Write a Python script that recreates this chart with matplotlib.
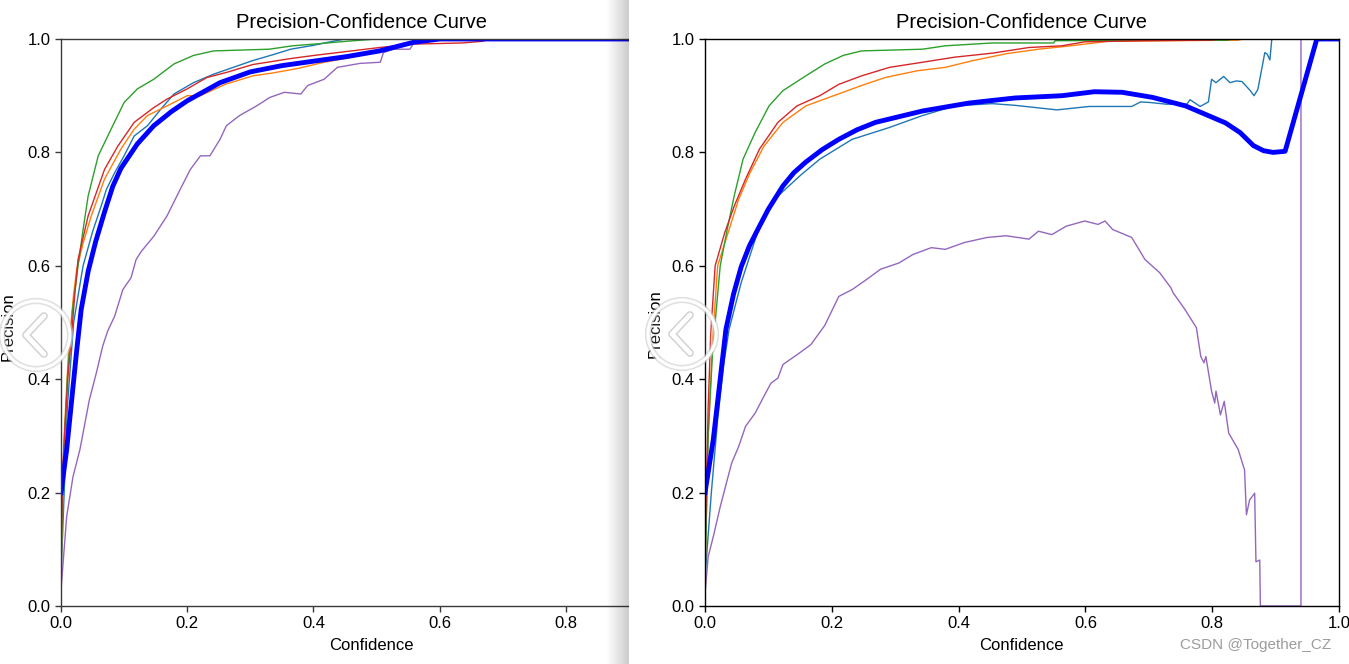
import matplotlib
matplotlib.use("Agg")
import matplotlib.pyplot as plt
from matplotlib.patches import Rectangle, Ellipse
from matplotlib.lines import Line2D
import matplotlib.patheffects as pe

plt.rcParams['font.family'] = ['Liberation Sans', 'DejaVu Sans']

# ---------------- data: left panel ----------------
L_c0_x = [0, 0.01, 0.02, 0.035, 0.05, 0.065, 0.072, 0.085, 0.1, 0.116, 0.137, 0.158, 0.179, 0.21, 0.242, 0.273, 0.304, 0.335, 0.364, 0.401, 0.422, 0.45, 1.0]
L_c0_y = [0.05, 0.35, 0.5, 0.6, 0.66, 0.71, 0.735, 0.764, 0.794, 0.829, 0.847, 0.876, 0.903, 0.923, 0.938, 0.95, 0.962, 0.972, 0.982, 0.989, 0.994, 1.0, 1.0]

L_c1_x = [0, 0.005, 0.012, 0.02, 0.025, 0.035, 0.048, 0.069, 0.095, 0.116, 0.137, 0.168, 0.2, 0.221, 0.26, 0.304, 0.335, 0.375, 0.417, 0.453, 0.505, 0.537, 0.558, 0.6, 1.0]
L_c1_y = [0.05, 0.3, 0.45, 0.55, 0.594, 0.64, 0.688, 0.753, 0.806, 0.841, 0.865, 0.882, 0.9, 0.9, 0.92, 0.935, 0.94, 0.948, 0.959, 0.966, 0.979, 0.988, 0.994, 1.0, 1.0]

L_c2_x = [0, 0.004, 0.01, 0.018, 0.027, 0.035, 0.043, 0.059, 0.082, 0.1, 0.121, 0.147, 0.179, 0.21, 0.242, 0.33, 0.367, 0.401, 0.453, 0.5, 1.0]
L_c2_y = [0.07, 0.25, 0.4, 0.52, 0.6, 0.664, 0.723, 0.794, 0.847, 0.888, 0.912, 0.929, 0.956, 0.971, 0.979, 0.982, 0.988, 0.991, 0.996, 1.0, 1.0]

L_c3_x = [0, 0.003, 0.007, 0.011, 0.017, 0.022, 0.027, 0.043, 0.069, 0.09, 0.116, 0.147, 0.168, 0.2, 0.231, 0.262, 0.304, 0.367, 0.401, 0.453, 0.505, 0.558, 0.636, 0.668, 0.68, 1.0]
L_c3_y = [0.1, 0.25, 0.33, 0.405, 0.482, 0.552, 0.611, 0.688, 0.77, 0.811, 0.853, 0.879, 0.894, 0.912, 0.932, 0.941, 0.955, 0.966, 0.971, 0.978, 0.985, 0.991, 0.993, 0.996, 1.0, 1.0]

L_c4_x = [0, 0.009, 0.019, 0.03, 0.038, 0.045, 0.056, 0.066, 0.074, 0.085, 0.098, 0.111, 0.119, 0.127, 0.147, 0.168, 0.189, 0.205, 0.221, 0.236, 0.252, 0.262, 0.283, 0.31, 0.331, 0.354, 0.38, 0.391, 0.417, 0.438, 0.474, 0.506, 0.511, 0.527, 0.553, 0.558, 0.57, 1.0]
L_c4_y = [0.028, 0.158, 0.228, 0.276, 0.323, 0.364, 0.411, 0.458, 0.485, 0.511, 0.558, 0.579, 0.611, 0.625, 0.652, 0.688, 0.735, 0.770, 0.794, 0.794, 0.823, 0.847, 0.865, 0.882, 0.897, 0.906, 0.903, 0.918, 0.929, 0.95, 0.957, 0.959, 0.976, 0.982, 0.982, 0.991, 1.0, 1.0]

L_all_x = [0, 0.009, 0.017, 0.025, 0.032, 0.043, 0.055, 0.069, 0.082, 0.095, 0.121, 0.147, 0.175, 0.2, 0.252, 0.3, 0.35, 0.401, 0.453, 0.505, 0.558, 0.6, 1.0]
L_all_y = [0.2, 0.276, 0.364, 0.452, 0.523, 0.59, 0.643, 0.695, 0.74, 0.772, 0.815, 0.847, 0.872, 0.891, 0.923, 0.942, 0.953, 0.961, 0.969, 0.979, 0.994, 1.0, 1.0]

# ---------------- data: right panel ----------------
R_c0_x = [0, 0.01, 0.02, 0.03, 0.038, 0.057, 0.086, 0.115, 0.152, 0.181, 0.232, 0.291, 0.343, 0.394, 0.453, 0.489, 0.555, 0.606, 0.673, 0.687, 0.702, 0.728, 0.76, 0.765, 0.781, 0.794, 0.799, 0.806, 0.818, 0.828, 0.838, 0.847, 0.86, 0.866, 0.872, 0.883, 0.887, 0.891, 0.894, 1.0]
R_c0_y = [0.05, 0.2, 0.33, 0.43, 0.488, 0.57, 0.67, 0.723, 0.761, 0.788, 0.823, 0.844, 0.865, 0.882, 0.886, 0.883, 0.875, 0.881, 0.881, 0.889, 0.888, 0.885, 0.885, 0.893, 0.881, 0.889, 0.929, 0.923, 0.934, 0.923, 0.926, 0.925, 0.909, 0.900, 0.911, 0.976, 0.973, 0.963, 1.0, 1.0]

R_c1_x = [0, 0.005, 0.012, 0.02, 0.038, 0.053, 0.071, 0.093, 0.123, 0.159, 0.203, 0.247, 0.284, 0.335, 0.379, 0.423, 0.475, 0.526, 0.577, 0.636, 0.84, 0.85, 1.0]
R_c1_y = [0.05, 0.3, 0.47, 0.6, 0.664, 0.717, 0.764, 0.811, 0.853, 0.882, 0.9, 0.918, 0.932, 0.944, 0.95, 0.962, 0.974, 0.982, 0.988, 0.996, 0.998, 1.0, 1.0]

R_c2_x = [0, 0.005, 0.012, 0.024, 0.035, 0.046, 0.06, 0.079, 0.101, 0.123, 0.159, 0.189, 0.218, 0.247, 0.343, 0.379, 0.453, 0.55, 0.552, 0.825, 0.83, 1.0]
R_c2_y = [0.05, 0.3, 0.45, 0.6, 0.664, 0.723, 0.788, 0.835, 0.882, 0.909, 0.935, 0.956, 0.971, 0.979, 0.982, 0.988, 0.993, 0.993, 0.997, 0.998, 1.0, 1.0]

R_c3_x = [0, 0.002, 0.005, 0.009, 0.016, 0.031, 0.046, 0.064, 0.086, 0.115, 0.145, 0.181, 0.211, 0.247, 0.291, 0.343, 0.394, 0.453, 0.511, 0.563, 0.599, 0.69, 0.8, 0.81, 1.0]
R_c3_y = [0.1, 0.2, 0.35, 0.48, 0.6, 0.658, 0.705, 0.753, 0.806, 0.853, 0.882, 0.9, 0.92, 0.935, 0.95, 0.959, 0.968, 0.975, 0.985, 0.988, 0.995, 0.997, 0.998, 1.0, 1.0]

R_c4_x = [0, 0.005, 0.013, 0.024, 0.031, 0.042, 0.053, 0.064, 0.079, 0.093, 0.104, 0.115, 0.123, 0.145, 0.167, 0.189, 0.211, 0.232, 0.255, 0.277, 0.306, 0.328, 0.357, 0.379, 0.409, 0.445, 0.475, 0.511, 0.526, 0.547, 0.57, 0.599, 0.62, 0.631, 0.643, 0.673, 0.694, 0.717, 0.735, 0.738, 0.757, 0.775, 0.782, 0.787, 0.79, 0.799, 0.804, 0.806, 0.813, 0.819, 0.826, 0.841, 0.851, 0.854, 0.859, 0.867, 0.869, 0.875, 0.876, 0.94, 0.94, 1.0]
R_c4_y = [0.022, 0.087, 0.122, 0.175, 0.205, 0.252, 0.281, 0.317, 0.34, 0.37, 0.393, 0.402, 0.426, 0.443, 0.461, 0.495, 0.546, 0.558, 0.576, 0.594, 0.605, 0.62, 0.632, 0.629, 0.641, 0.65, 0.653, 0.647, 0.661, 0.655, 0.67, 0.679, 0.673, 0.679, 0.664, 0.65, 0.611, 0.588, 0.561, 0.553, 0.523, 0.491, 0.44, 0.429, 0.44, 0.379, 0.358, 0.379, 0.337, 0.361, 0.305, 0.276, 0.24, 0.161, 0.187, 0.199, 0.078, 0.081, 0.0, 0.0, 1.0, 1.0]

R_all_x = [0, 0.013, 0.024, 0.033, 0.045, 0.057, 0.07, 0.086, 0.1, 0.123, 0.14, 0.159, 0.185, 0.211, 0.24, 0.269, 0.343, 0.416, 0.489, 0.563, 0.614, 0.658, 0.706, 0.758, 0.821, 0.844, 0.865, 0.881, 0.896, 0.915, 0.965, 1.0]
R_all_y = [0.2, 0.293, 0.4, 0.488, 0.55, 0.598, 0.635, 0.670, 0.7, 0.741, 0.764, 0.783, 0.805, 0.823, 0.84, 0.853, 0.873, 0.887, 0.896, 0.900, 0.907, 0.906, 0.897, 0.882, 0.852, 0.835, 0.812, 0.803, 0.800, 0.802, 1.0, 1.0]

class_colors = ['#1f77b4', '#ff7f0e', '#2ca02c', '#d62728', '#9467bd']
title_text = 'Precision-Confidence Curve'
xlabel_text = 'Confidence'
ylabel_text = 'Precision'
ticks = [0.0, 0.2, 0.4, 0.6, 0.8, 1.0]
tick_labels = ['0.0', '0.2', '0.4', '0.6', '0.8', '1.0']
watermark = 'CSDN @Together_CZ'

# ---------------- layout ----------------
W, H = 1349, 664
fig = plt.figure(figsize=(W / 100, H / 100), dpi=100)
fig.patch.set_facecolor('white')

def fx(px):
    return px / W

def fy(py):
    return 1 - py / H

axL = fig.add_axes([fx(61), fy(606), (692 - 61) / W, (606 - 39) / H])
axR = fig.add_axes([fx(705), fy(606), (1339 - 705) / W, (606 - 39) / H])
axR.set_zorder(3)

left_sets = [(L_c0_x, L_c0_y), (L_c1_x, L_c1_y), (L_c2_x, L_c2_y), (L_c3_x, L_c3_y), (L_c4_x, L_c4_y)]
right_sets = [(R_c0_x, R_c0_y), (R_c1_x, R_c1_y), (R_c2_x, R_c2_y), (R_c3_x, R_c3_y), (R_c4_x, R_c4_y)]

for ax, sets, ax_all, spine_col in [(axL, left_sets, (L_all_x, L_all_y), '#3a3a3a'),
                                    (axR, right_sets, (R_all_x, R_all_y), 'black')]:
    for (xs, ys), c in zip(sets, class_colors):
        assert len(xs) == len(ys)
        ax.plot(xs, ys, color=c, lw=1.0)
    assert len(ax_all[0]) == len(ax_all[1])
    ax.plot(ax_all[0], ax_all[1], color='blue', lw=3.5)
    ax.set_xlim(0, 1)
    ax.set_ylim(0, 1)
    ax.set_xticks(ticks)
    ax.set_xticklabels(tick_labels)
    ax.set_yticks(ticks)
    ax.set_yticklabels(tick_labels)
    ax.tick_params(labelsize=12, length=4.5, width=1.0, color=spine_col, pad=3)
    for s in ax.spines.values():
        s.set_color(spine_col)
        s.set_linewidth(1.0)

# white cover for the right screenshot + shadow
fig.add_artist(Rectangle((fx(629), 0), 1 - fx(629), 1, transform=fig.transFigure,
                         facecolor='white', edgecolor='none', zorder=2))
n = 22
for i in range(n):
    fig.add_artist(Rectangle((fx(607 + i), 0), 1 / W, 1, transform=fig.transFigure,
                             facecolor='black', edgecolor='none',
                             alpha=0.009 * (i + 1), zorder=2.1))

# texts
for tcx, lcx, ylx, yly in [(362, 371, 8, 327), (1021, 1021, 655, 324)]:
    fig.text(fx(tcx), fy(23), title_text, ha='center', va='center', fontsize=14.5, zorder=4)
    fig.text(fx(lcx), fy(645), xlabel_text, ha='center', va='center', fontsize=12, zorder=4)
    fig.text(fx(ylx), fy(yly), ylabel_text, ha='center', va='center', fontsize=12,
             rotation=90, zorder=4)

fig.text(fx(1256), fy(645), watermark, ha='center', va='center', fontsize=11,
         color='#9c9c9c', zorder=6)

# carousel buttons
for cx, cy in [(36, 335), (682, 334)]:
    r = 34
    fig.add_artist(Ellipse((fx(cx), fy(cy)), 2 * r / W, 2 * r / H, transform=fig.transFigure,
                           facecolor=(1, 1, 1, 0.12), edgecolor=(0.8, 0.8, 0.8, 0.6), lw=4.5, zorder=5))
    fig.add_artist(Ellipse((fx(cx), fy(cy)), 2 * r / W, 2 * r / H, transform=fig.transFigure,
                           facecolor='none', edgecolor='white', lw=2.2, zorder=5.1))
    fig.add_artist(Line2D([fx(cx + 8), fx(cx - 10), fx(cx + 8)],
                          [fy(cy - 19), fy(cy), fy(cy + 19)], transform=fig.transFigure,
                          color='white', lw=3.5, solid_capstyle='round', solid_joinstyle='round',
                          path_effects=[pe.Stroke(linewidth=5.5, foreground='#cfcfcf'), pe.Normal()],
                          zorder=5.2))

fig.savefig('out.png', dpi=100, facecolor='white')
